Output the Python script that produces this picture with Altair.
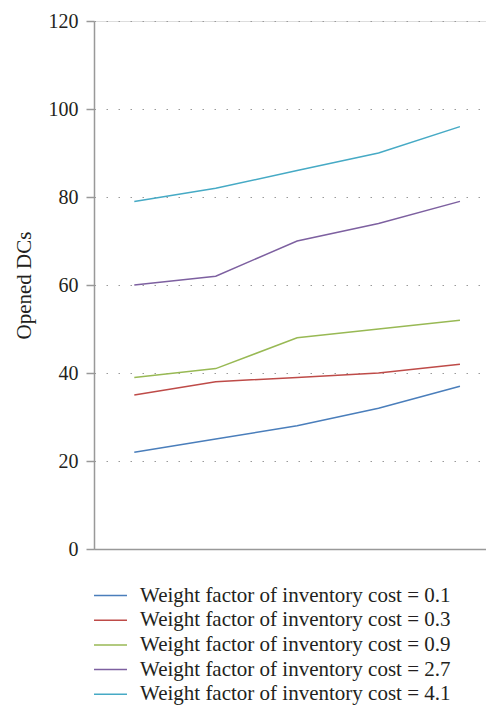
import altair as alt
import pandas as pd

points = [1, 2, 3, 4, 5]
series_names = [
    "Weight factor of inventory cost = 0.1",
    "Weight factor of inventory cost = 0.3",
    "Weight factor of inventory cost = 0.9",
    "Weight factor of inventory cost = 2.7",
    "Weight factor of inventory cost = 4.1",
]
w01 = [22, 25, 28, 32, 37]
w03 = [35, 38, 39, 40, 42]
w09 = [39, 41, 48, 50, 52]
w27 = [60, 62, 70, 74, 79]
w41 = [79, 82, 86, 90, 96]
colors = ["#4a7ebb", "#be4b48", "#98b954", "#7d60a0", "#46aac5"]
y_ticks = [0, 20, 40, 60, 80, 100, 120]

rows = []
for name, vals in zip(series_names, [w01, w03, w09, w27, w41]):
    for p, v in zip(points, vals):
        rows.append({"point": p, "value": v, "series": name})
df = pd.DataFrame(rows)

FONT = "Liberation Serif"
TXT = "#231f20"

chart = alt.Chart(df).mark_line(strokeWidth=1.5).encode(
    x=alt.X("point:Q", scale=alt.Scale(domain=[0.505, 5.32], nice=False, zero=False),
            axis=alt.Axis(title=None, labels=False, ticks=False, grid=False,
                          domainColor="#999999", domainWidth=1.5)),
    y=alt.Y("value:Q", scale=alt.Scale(domain=[0, 120], nice=False),
            axis=alt.Axis(title="Opened DCs", values=y_ticks, grid=True,
                          gridColor="#9a9a9a", gridDash=[1.5, 10.5], gridWidth=1,
                          domainColor="#999999", domainWidth=1.5,
                          tickColor="#999999", tickSize=8, tickWidth=1.5,
                          labelFont=FONT, labelFontSize=20, labelColor=TXT,
                          labelPadding=8,
                          titleFont=FONT, titleFontSize=21, titleColor=TXT,
                          titleFontWeight="normal", titlePadding=14)),
    color=alt.Color("series:N",
                    scale=alt.Scale(domain=series_names, range=colors),
                    legend=alt.Legend(title=None, orient="none", legendX=6, legendY=564,
                                      direction="vertical",
                                      symbolType="M-2,0H2", symbolSize=272,
                                      symbolStrokeWidth=1.5,
                                      labelFont=FONT, labelFontSize=21, labelColor=TXT,
                                      labelOffset=19, rowPadding=2.7,
                                      labelLimit=500)),
    detail="series:N",
).properties(
    width=392,
    height=528,
    padding={"left": 86, "top": 13, "right": 0, "bottom": 157},
    autosize=alt.AutoSizeParams(type="none"),
).configure_view(stroke=None).configure(background="white")

chart.save("out.html", embed_options={"renderer": "svg", "actions": False})
